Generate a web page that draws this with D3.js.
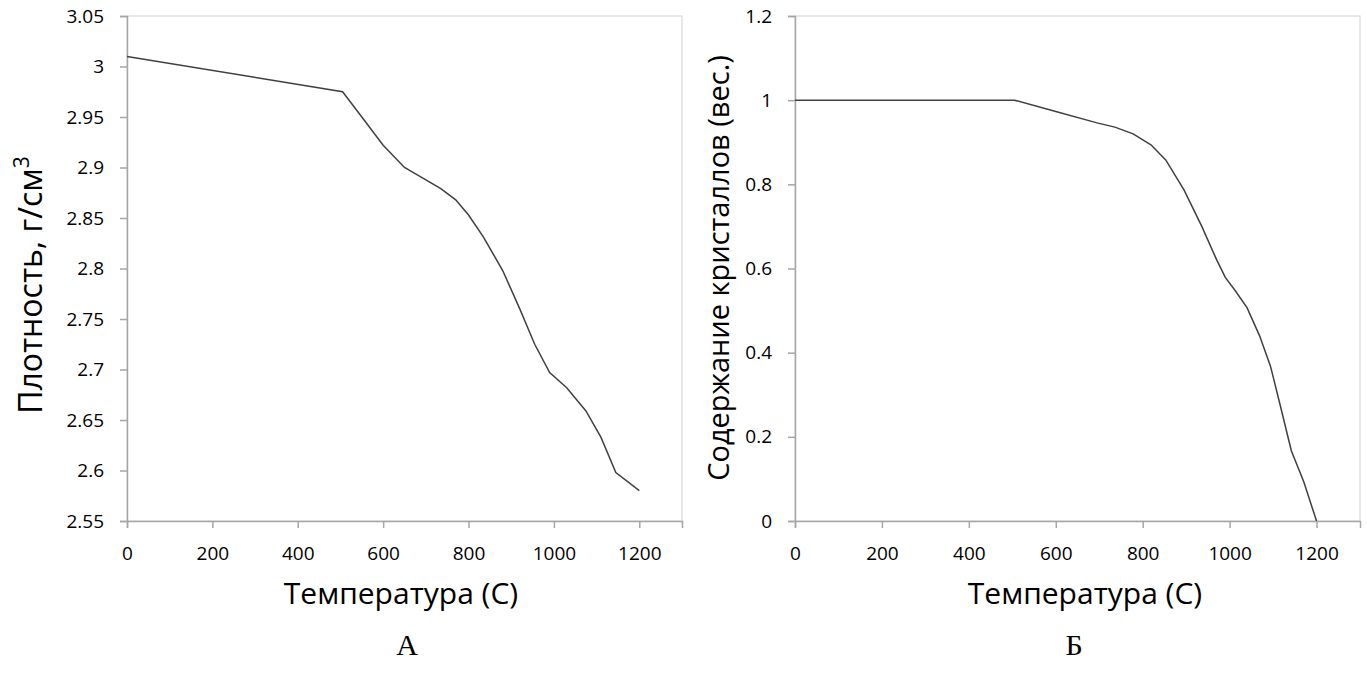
<!DOCTYPE html>
<html>
<head>
<meta charset="utf-8">
<script src="https://cdn.jsdelivr.net/npm/d3@7"></script>
<style>
  html, body { margin: 0; padding: 0; background: #fff; }
  svg { display: block; }
</style>
</head>
<body>
<svg id="chart" width="1367" height="675"></svg>
<script>
// ---- Data ----
const xTicks = [0, 200, 400, 600, 800, 1000, 1200];

const densityTemp = [0, 505, 550, 600, 650, 695, 735, 770, 800, 835, 880, 920, 955, 990, 1030, 1075, 1110, 1145, 1200];
const densityVals = [3.01, 2.975, 2.95, 2.922, 2.90, 2.889, 2.879, 2.868, 2.853, 2.831, 2.798, 2.76, 2.725, 2.697, 2.682, 2.659, 2.633, 2.598, 2.58];
const densityTicks = [2.55, 2.6, 2.65, 2.7, 2.75, 2.8, 2.85, 2.9, 2.95, 3, 3.05];

const crystTemp = [0, 505, 600, 695, 736, 778, 819, 853, 895, 936, 970, 990, 1011, 1040, 1069, 1094, 1115, 1142, 1171, 1200];
const crystVals = [1, 1, 0.973, 0.946, 0.936, 0.92, 0.894, 0.858, 0.787, 0.70, 0.621, 0.579, 0.55, 0.507, 0.44, 0.368, 0.281, 0.167, 0.092, 0];
const crystTicks = [0, 0.2, 0.4, 0.6, 0.8, 1, 1.2];

const xTitle = "Температура (С)";
const yTitleA = "Плотность, г/см";
const yTitleB = "Содержание кристаллов (вес.)";
const panelA = "А";
const panelB = "Б";

// ---- Drawing ----
const svg = d3.select("#chart");
const font = "'Open Sans', 'DejaVu Sans', sans-serif";

function panel(opt) {
  const x = d3.scaleLinear().domain([0, 1300]).range([opt.left, opt.right]);
  const y = d3.scaleLinear().domain(opt.yDomain).range([opt.bottom, opt.top]);
  const g = svg.append("g");

  g.append("rect")
    .attr("x", opt.left).attr("y", opt.top)
    .attr("width", opt.right - opt.left).attr("height", opt.bottom - opt.top)
    .attr("fill", "none").attr("stroke", "#d9d9d9").attr("stroke-width", 1.2);

  const xa = g.append("g").attr("transform", `translate(0,${opt.bottom})`)
    .call(d3.axisBottom(x).tickValues(xTicks).tickSize(7).tickPadding(19).tickFormat(d3.format("d")));
  xa.select(".domain").attr("stroke", "#a6a6a6").attr("stroke-width", 1.5);
  xa.selectAll(".tick line").attr("stroke", "#a6a6a6").attr("stroke-width", 1.5);
  xa.selectAll("text").attr("font-family", font).attr("font-size", 19).attr("fill", "#000");

  const ya = g.append("g").attr("transform", `translate(${opt.left},0)`)
    .call(d3.axisLeft(y).tickValues(opt.yTicks).tickSize(7).tickPadding(16).tickFormat(d => String(+d.toFixed(2))));
  ya.select(".domain").attr("stroke", "#a6a6a6").attr("stroke-width", 1.5);
  ya.selectAll(".tick line").attr("stroke", "#a6a6a6").attr("stroke-width", 1.5);
  ya.selectAll("text").attr("font-family", font).attr("font-size", 19).attr("fill", "#000");

  const pts = opt.xs.map((v, i) => [v, opt.ys[i]]);
  g.append("path").datum(pts)
    .attr("fill", "none").attr("stroke", "#404040").attr("stroke-width", 1.5)
    .attr("d", d3.line().x(d => x(d[0])).y(d => y(d[1])));

  g.append("text").attr("x", opt.xTitleX).attr("y", 604)
    .attr("text-anchor", "middle").attr("font-family", font).attr("font-size", 30)
    .text(xTitle);

  const yt = g.append("text")
    .attr("transform", `translate(${opt.yTitleX},${opt.yTitleY}) rotate(-90)`)
    .attr("text-anchor", "middle").attr("font-family", font).attr("font-size", opt.yTitleSize);
  yt.append("tspan").text(opt.yTitle);
  if (opt.sup) yt.append("tspan").attr("dy", -13).attr("font-size", 21).text(opt.sup);

  g.append("text").attr("x", opt.labelX).attr("y", 655)
    .attr("text-anchor", "middle").attr("font-family", "'Liberation Serif', 'Times New Roman', serif")
    .attr("font-size", 30).text(opt.label);
}

panel({
  left: 127, right: 682, top: 16, bottom: 521,
  yDomain: [2.55, 3.05], yTicks: densityTicks,
  xs: densityTemp, ys: densityVals,
  yTitle: yTitleA, sup: "3", yTitleX: 42, yTitleY: 285, yTitleSize: 32,
  xTitleX: 401, labelX: 407, label: panelA
});

panel({
  left: 795, right: 1360, top: 16, bottom: 521,
  yDomain: [0, 1.2], yTicks: crystTicks,
  xs: crystTemp, ys: crystVals,
  yTitle: yTitleB, sup: null, yTitleX: 729, yTitleY: 268, yTitleSize: 29,
  xTitleX: 1085, labelX: 1074, label: panelB
});
</script>
</body>
</html>
